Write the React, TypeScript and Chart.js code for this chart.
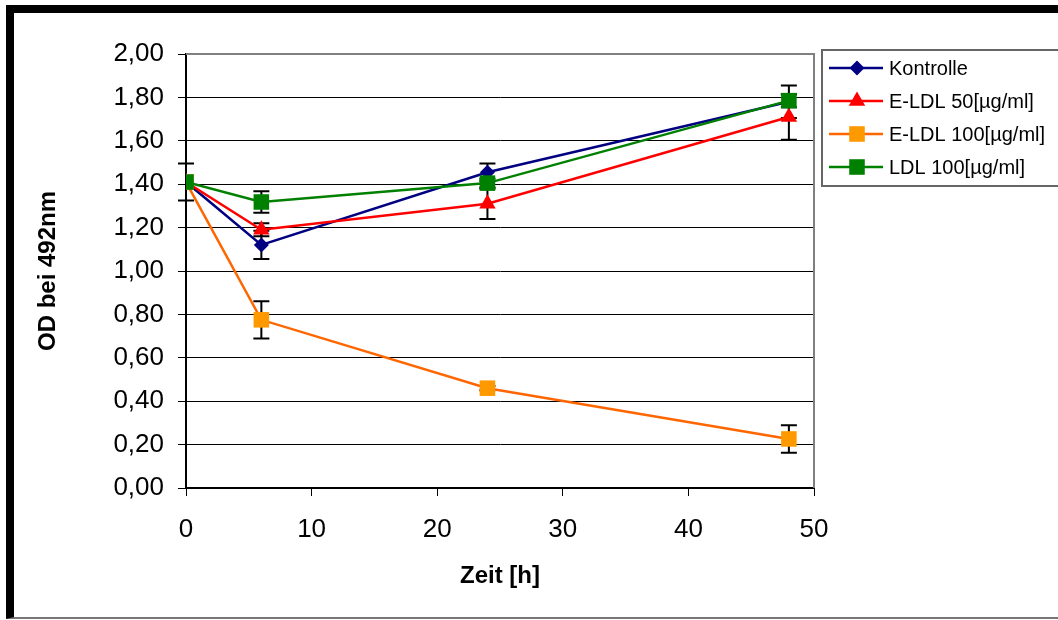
import React, { useEffect, useRef } from "react";
import { Chart, registerables } from "chart.js";

Chart.register(...registerables);

// ---- data ----
const hours = [0, 6, 24, 48];
const seriesLabels = ["Kontrolle", "E-LDL 50[µg/ml]", "E-LDL 100[µg/ml]", "LDL 100[µg/ml]"];
const kontrolle = [1.41, 1.12, 1.455, 1.78];
const eldl50 = [1.41, 1.19, 1.31, 1.71];
const eldl100 = [1.41, 0.775, 0.46, 0.226];
const ldl100 = [1.41, 1.318, 1.405, 1.785];
const kontrolleErr = [0.085, 0.065, 0.04, 0.075];
const eldl50Err = [0, 0.03, 0.07, 0.105];
const eldl100Err = [0, 0.086, 0.01, 0.063];
const ldl100Err = [0, 0.05, 0.02, 0.03];
const xTitle = "Zeit [h]";
const yTitle = "OD bei 492nm";

const FONT = "'Liberation Sans', Arial, sans-serif";

type Style = { line: string; fill: string; shape: "diamond" | "triangle" | "square"; radius: number };
const styles: Style[] = [
  { line: "#000080", fill: "#000080", shape: "diamond", radius: 7.5 },
  { line: "#FF0000", fill: "#FF0000", shape: "triangle", radius: 9.5 },
  { line: "#FF6600", fill: "#FF9900", shape: "square", radius: 11 },
  { line: "#008000", fill: "#008000", shape: "square", radius: 11 },
];
const values = [kontrolle, eldl50, eldl100, ldl100];
const errors = [kontrolleErr, eldl50Err, eldl100Err, ldl100Err];

function drawMarker(ctx: CanvasRenderingContext2D, s: Style, x: number, y: number) {
  const r = s.radius;
  ctx.beginPath();
  if (s.shape === "diamond") {
    ctx.moveTo(x, y - r);
    ctx.lineTo(x + r, y);
    ctx.lineTo(x, y + r);
    ctx.lineTo(x - r, y);
  } else if (s.shape === "triangle") {
    ctx.moveTo(x, y - r);
    ctx.lineTo(x + 0.866 * r, y + 0.5 * r);
    ctx.lineTo(x - 0.866 * r, y + 0.5 * r);
  } else {
    const h = r * Math.SQRT1_2;
    ctx.rect(x - h, y - h, 2 * h, 2 * h);
  }
  ctx.closePath();
  ctx.fillStyle = s.fill;
  ctx.fill();
}

export default function App() {
  const ref = useRef<HTMLCanvasElement>(null);

  useEffect(() => {
    const canvas = ref.current;
    if (!canvas) return;

    const errorBars = {
      id: "errorBars",
      beforeDatasetsDraw(chart: any) {
        const { ctx } = chart;
        const xs = chart.scales.x;
        const ys = chart.scales.y;
        ctx.save();
        // plot frame (top / right), gray
        const a = chart.chartArea;
        ctx.strokeStyle = "#808080";
        ctx.lineWidth = 2;
        ctx.beginPath();
        ctx.moveTo(a.left, a.top);
        ctx.lineTo(a.right, a.top);
        ctx.lineTo(a.right, a.bottom);
        ctx.stroke();
        // error bars
        ctx.strokeStyle = "#000";
        ctx.lineWidth = 2;
        values.forEach((vals, i) => {
          vals.forEach((v, j) => {
            const e = errors[i][j];
            if (!e) return;
            const px = xs.getPixelForValue(hours[j]);
            const t = ys.getPixelForValue(v + e);
            const b = ys.getPixelForValue(v - e);
            ctx.beginPath();
            ctx.moveTo(px, t);
            ctx.lineTo(px, b);
            ctx.moveTo(px - 8, t);
            ctx.lineTo(px + 8, t);
            ctx.moveTo(px - 8, b);
            ctx.lineTo(px + 8, b);
            ctx.stroke();
          });
        });
        ctx.restore();
      },
    };

    const legendPlugin = {
      id: "customLegend",
      afterDraw(chart: any) {
        const { ctx } = chart;
        ctx.save();
        ctx.strokeStyle = "#666";
        ctx.lineWidth = 2;
        ctx.strokeRect(822, 50, 300, 136);
        ctx.font = `20px ${FONT}`;
        ctx.textBaseline = "middle";
        ctx.textAlign = "left";
        seriesLabels.forEach((lab, i) => {
          const y = 68 + i * 33;
          const s = styles[i];
          ctx.strokeStyle = s.line;
          ctx.lineWidth = 2.5;
          ctx.beginPath();
          ctx.moveTo(829, y);
          ctx.lineTo(883, y);
          ctx.stroke();
          drawMarker(ctx, s, 857, y);
          ctx.fillStyle = "#000";
          ctx.fillText(lab, 889, y + 1);
        });
        ctx.restore();
      },
    };

    const pointStyleOf = (s: Style) =>
      s.shape === "diamond" ? "rectRot" : s.shape === "triangle" ? "triangle" : "rect";

    const datasets = values.map((vals, i) => ({
      label: seriesLabels[i],
      data: hours.map((h, j) => ({ x: h, y: vals[j] })),
      borderColor: styles[i].line,
      backgroundColor: styles[i].fill,
      borderWidth: 2.5,
      pointStyle: pointStyleOf(styles[i]),
      pointRadius: styles[i].radius,
      pointBackgroundColor: styles[i].fill,
      pointBorderColor: styles[i].fill,
      pointBorderWidth: 0,
      tension: 0,
      order: 3 - i,
    }));

    const chart = new Chart(canvas, {
      type: "line",
      data: { datasets },
      plugins: [errorBars, legendPlugin],
      options: {
        responsive: false,
        animation: false,
        layout: { padding: { left: 14, top: 54, right: 244, bottom: 2 } },
        plugins: { legend: { display: false }, tooltip: { enabled: false } },
        scales: {
          x: {
            type: "linear",
            min: 0,
            max: 50,
            ticks: {
              stepSize: 10,
              color: "#000",
              font: { family: FONT, size: 26 },
              padding: 18,
            },
            grid: { drawOnChartArea: false, drawTicks: true, tickLength: 8, color: "#000", lineWidth: 1 },
            border: { display: true, color: "#000", width: 2 },
            title: {
              display: true,
              text: xTitle,
              color: "#000",
              font: { family: FONT, size: 24, weight: "bold" },
              padding: { top: 0, bottom: 27 },
            },
            afterFit: (s: any) => {
              s.height = 130;
            },
          },
          y: {
            min: 0,
            max: 2,
            ticks: {
              stepSize: 0.2,
              color: "#000",
              font: { family: FONT, size: 26 },
              padding: 14,
              callback: (v: any) => Number(v).toFixed(2).replace(".", ","),
            },
            grid: { color: "#000", lineWidth: 1, tickLength: 8, drawTicks: true },
            border: { display: true, color: "#000", width: 2 },
            title: {
              display: true,
              text: yTitle,
              color: "#000",
              font: { family: FONT, size: 24, weight: "bold" },
              padding: { top: 20, bottom: 0 },
            },
            afterFit: (s: any) => {
              s.width = 172;
            },
          },
        },
      },
    } as any);

    return () => chart.destroy();
  }, []);

  return (
    <div
      style={{
        position: "fixed",
        left: 0,
        top: 0,
        width: 1058,
        height: 620,
        overflow: "hidden",
        background: "#fff",
      }}
    >
      <div
        style={{
          position: "absolute",
          left: 6,
          top: 5,
          width: 1100,
          height: 614,
          boxSizing: "border-box",
          borderTop: "8px solid #000",
          borderLeft: "8px solid #000",
          borderBottom: "2px solid #777",
        }}
      />
      <canvas
        ref={ref}
        width={1058}
        height={620}
        style={{ position: "absolute", left: 0, top: 0, width: 1058, height: 620 }}
      />
    </div>
  );
}
